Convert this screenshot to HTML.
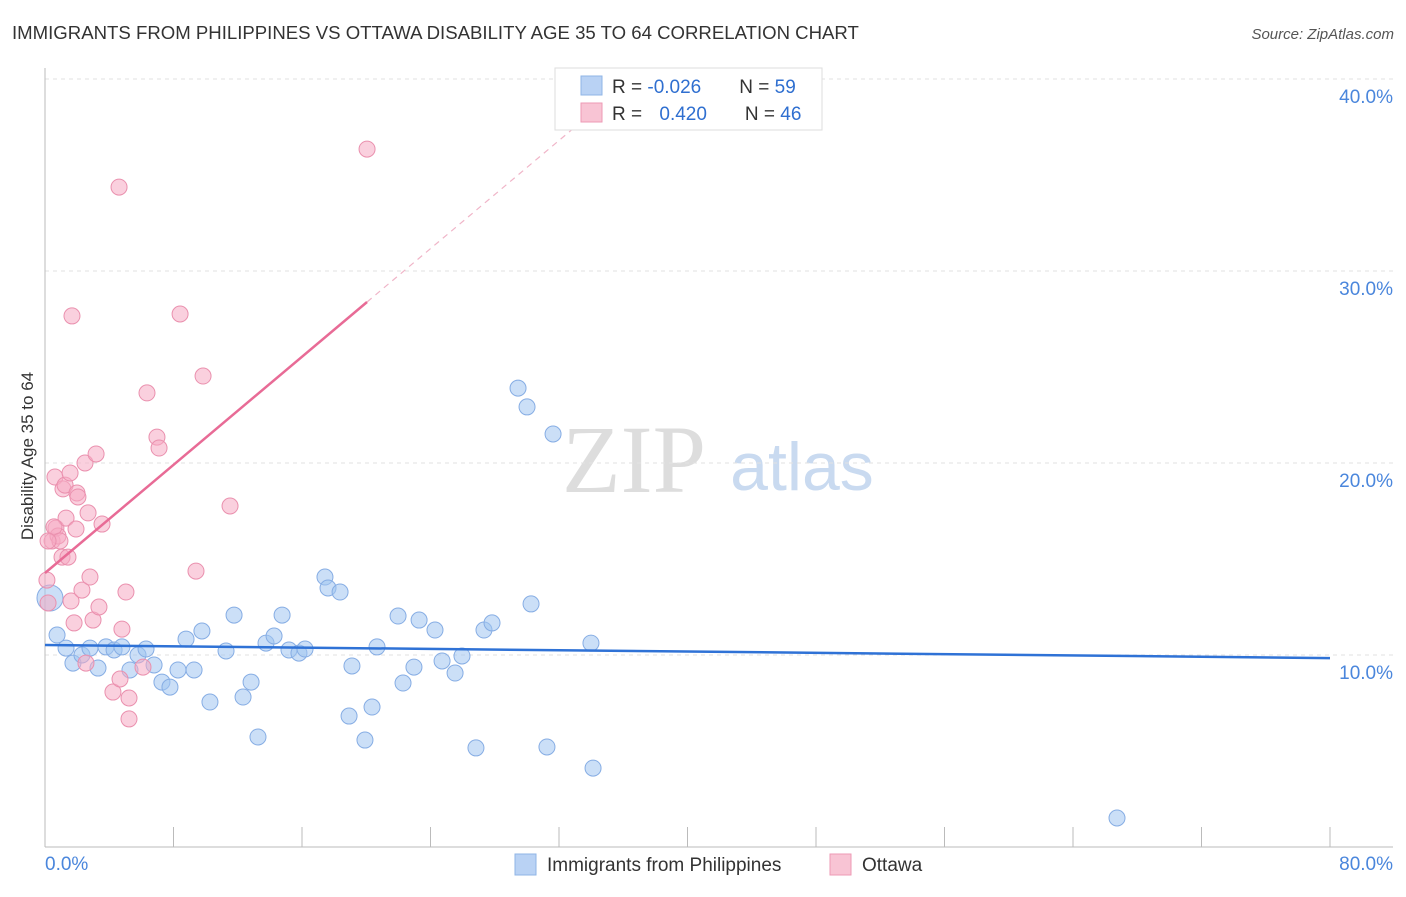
<!DOCTYPE html>
<html><head><meta charset="utf-8"><style>
body{margin:0;background:#fff;font-family:"Liberation Sans",sans-serif;}
</style></head><body>
<svg id="chart" width="1406" height="892" xmlns="http://www.w3.org/2000/svg" font-family="Liberation Sans, sans-serif">
<text x="12" y="39" font-size="18.6" fill="#333">IMMIGRANTS FROM PHILIPPINES VS OTTAWA DISABILITY AGE 35 TO 64 CORRELATION CHART</text>
<text x="1394" y="39" font-size="15" fill="#555" font-style="italic" text-anchor="end">Source: ZipAtlas.com</text>
<text transform="translate(33,456) rotate(-90)" font-size="17" fill="#333" text-anchor="middle">Disability Age 35 to 64</text>
<g>
<text x="634" y="492" font-size="96" font-family="Liberation Serif, serif" fill="#ddd" text-anchor="middle">ZIP</text>
<text x="802" y="490" font-size="68" fill="#c9daf0" text-anchor="middle">atlas</text>
</g>
<g id="grid"></g>
<g id="axes"></g>
<g id="marks"></g>
<g>
<rect x="555" y="68" width="267" height="62" fill="#fff" stroke="#ddd"/>
<rect x="581" y="76" width="21" height="19" fill="#b9d2f4" stroke="#8fb4e6"/>
<rect x="581" y="103" width="21" height="19" fill="#f8c4d4" stroke="#ee9ab5"/>
<text x="612" y="93" font-size="19" fill="#333">R = <tspan fill="#2f6fd0">-0.026</tspan><tspan dx="38" fill="#333">N = </tspan><tspan fill="#2f6fd0">59</tspan></text>
<text x="612" y="120" font-size="19" fill="#333">R = <tspan dx="12" fill="#2f6fd0">0.420</tspan><tspan dx="38" fill="#333">N = </tspan><tspan fill="#2f6fd0">46</tspan></text>
</g>
<g>
<rect x="515" y="854" width="21" height="21" fill="#b9d2f4" stroke="#8fb4e6"/>
<text x="547" y="871" font-size="19" fill="#333">Immigrants from Philippines</text>
<rect x="830" y="854" width="21" height="21" fill="#f8c4d4" stroke="#ee9ab5"/>
<text x="862" y="871" font-size="19" fill="#333">Ottawa</text>
</g>
</svg>
<script>
const xTicks=[0,8,16,24,32,40,48,56,64,72,80];
const yTicks=[10,20,30,40];
const blueX=[0.31,0.75,1.31,1.74,2.30,2.80,3.30,3.80,4.30,4.79,5.29,5.79,6.29,6.79,7.28,7.78,8.28,8.78,9.28,9.77,10.27,11.27,11.77,12.33,12.83,13.26,13.76,14.26,14.76,15.19,15.81,16.19,17.43,17.62,18.37,18.93,19.11,19.92,20.36,20.67,21.98,22.29,22.97,23.29,24.28,24.72,25.53,25.96,26.83,27.33,27.83,29.45,30.01,30.26,31.25,31.63,33.99,34.12,66.74];
const blueY=[12.97,11.04,10.36,9.58,10.0,10.36,9.32,10.42,10.26,10.42,9.22,10.0,10.31,9.48,8.59,8.33,9.22,10.83,9.22,11.25,7.55,10.21,12.08,7.81,8.59,5.73,10.62,10.99,12.08,10.26,10.10,10.31,14.06,13.49,13.28,6.82,9.43,5.57,7.29,10.42,12.03,8.54,9.37,11.82,11.30,9.69,9.06,9.95,5.16,11.30,11.67,23.9,22.92,12.66,5.21,21.51,10.62,4.11,1.51];
const pinkX=[0.12,0.19,0.44,0.62,0.68,0.81,1.06,1.12,1.25,1.31,1.43,1.56,1.62,1.68,1.81,1.93,1.99,2.05,2.30,2.49,2.55,2.68,2.80,2.99,3.18,3.36,3.55,4.23,4.61,4.67,4.79,5.04,5.23,5.23,6.10,6.35,6.97,7.10,8.41,9.40,9.84,11.52,20.05,0.56,0.93,0.19];
const pinkY=[13.9,12.71,15.94,19.27,16.61,16.2,15.1,18.65,18.85,17.13,15.1,19.48,12.81,27.66,11.67,16.56,18.44,18.23,13.38,20.0,9.58,17.4,14.06,11.82,20.47,12.5,16.82,8.07,34.37,8.75,11.35,13.28,7.76,6.67,9.37,23.65,21.35,20.78,27.76,14.37,24.53,17.76,36.35,16.67,15.94,15.94];
const blueTrend=[10.52,9.84];
const pinkTrend=[14.27,0.704];
const NS="http://www.w3.org/2000/svg";
const X=v=>45+v/80*1285, Y=v=>847-v*19.2;
function mk(tag,attrs,parent){const e=document.createElementNS(NS,tag);for(const k in attrs)e.setAttribute(k,attrs[k]);document.getElementById(parent).appendChild(e);return e;}
yTicks.forEach(t=>{
 const l=mk('line',{x1:45,x2:1393,y1:Y(t),y2:Y(t),stroke:'#e2e2e2','stroke-dasharray':'4,4'},'grid');
 
 
 const tx=mk('text',{x:1393,y:Y(t)+24,'font-size':19,fill:'#4a86dc','text-anchor':'end'},'grid');
 tx.textContent=t.toFixed(1)+'%';
 
 
});
const ya=mk('line',{x1:45,x2:45,y1:68,y2:847,stroke:'#bbb'},'axes');


const xa=mk('line',{x1:45,x2:1393,y1:847,y2:847,stroke:'#bbb'},'axes');


xTicks.forEach(t=>{
 const l=mk('line',{x1:X(t),x2:X(t),y1:827,y2:847,stroke:'#bbb'},'axes');
 
 
});
[[0,'start',45],[80,'end',1393]].forEach(([t,a,px])=>{
 const tx=mk('text',{x:px,y:870,'font-size':19,fill:'#4a86dc','text-anchor':a},'axes');
 tx.textContent=t.toFixed(1)+'%';
 
 
});
blueX.forEach((x,i)=>{
 const c=mk('circle',{cx:X(x),cy:Y(blueY[i]),r:i===0?13:8,fill:'rgba(160,196,240,0.55)',stroke:'#86ade4','stroke-width':1},'marks');
 
 
});
pinkX.forEach((x,i)=>{
 const c=mk('circle',{cx:X(x),cy:Y(pinkY[i]),r:8,fill:'rgba(245,170,195,0.55)',stroke:'#ea90ae','stroke-width':1},'marks');
 
 
});
const bl=mk('line',{x1:X(0),y1:Y(blueTrend[0]),x2:X(80),y2:Y(blueTrend[1]),stroke:'#2f72d6','stroke-width':2.5},'marks');


const pEnd=20.05;
const pl=mk('line',{x1:X(0),y1:Y(pinkTrend[0]),x2:X(pEnd),y2:Y(pinkTrend[0]+pinkTrend[1]*pEnd),stroke:'#e86b96','stroke-width':2.5},'marks');


const xd=(40-pinkTrend[0])/pinkTrend[1];
const pd=mk('line',{x1:X(pEnd),y1:Y(pinkTrend[0]+pinkTrend[1]*pEnd),x2:X(xd),y2:Y(40),stroke:'#f0b5c8','stroke-width':1.2,'stroke-dasharray':'6,5'},'marks');


</script>
</body></html>
